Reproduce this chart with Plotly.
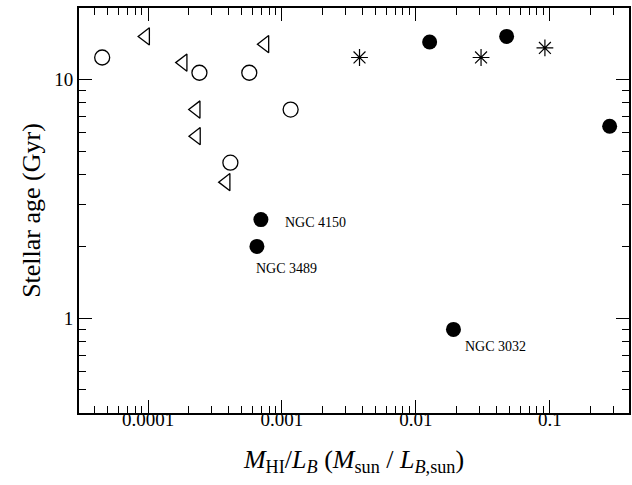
import numpy as np
import plotly.graph_objects as go

# open circles
oc_x = [4.55e-5, 2.42e-4, 5.7e-4, 1.16e-3, 4.12e-4]
oc_y = [12.4, 10.7, 10.7, 7.5, 4.49]
# open left triangles
tr_x = [9.6e-5, 1.83e-4, 2.29e-4, 2.3e-4, 3.83e-4, 7.46e-4]
tr_y = [15.2, 11.8, 7.5, 5.8, 3.72, 14.1]
# asterisks
as_x = [3.79e-3, 0.0306, 0.0917]
as_y = [12.4, 12.4, 13.6]
# filled circles
fc_x = [0.01265, 0.0475, 0.279, 6.96e-4, 6.5e-4, 0.01905]
fc_y = [14.4, 15.2, 6.38, 2.59, 2.0, 0.897]
fc_names = ["", "", "", "NGC 4150", "NGC 3489", "NGC 3032"]

x_tickvals = [1e-4, 1e-3, 1e-2, 1e-1]
x_ticktext = ["0.0001", "0.001", "0.01", "0.1"]
y_tickvals = [1, 10]
y_ticktext = ["1", "10"]

FONT = "Liberation Serif"

fig = go.Figure()
fig.add_trace(go.Scatter(x=oc_x, y=oc_y, mode="markers",
                         marker=dict(symbol="circle-open", size=15, color="black", line=dict(width=1.3))))
fig.add_trace(go.Scatter(x=tr_x, y=tr_y, mode="markers",
                         marker=dict(symbol="triangle-left-open", size=15, color="black", line=dict(width=1.3))))
fig.add_trace(go.Scatter(x=as_x, y=as_y, mode="markers",
                         marker=dict(symbol="asterisk-open", size=14, color="black", line=dict(width=1.2))))
fig.add_trace(go.Scatter(x=fc_x, y=fc_y, mode="markers",
                         marker=dict(symbol="circle", size=15, color="black", line=dict(width=0))))

offsets = {"NGC 4150": (22, -3), "NGC 3489": (-3, -22), "NGC 3032": (10, -17)}
for xv, yv, nm in zip(fc_x, fc_y, fc_names):
    if nm:
        dx, dy = offsets[nm]
        fig.add_annotation(x=np.log10(xv), y=np.log10(yv), text=nm, showarrow=False,
                           xanchor="left", yanchor="middle", xshift=dx, yshift=dy,
                           font=dict(family=FONT, size=14, color="black"))

def minors(lo, hi):
    vals = []
    for d in range(lo, hi):
        for m in range(2, 10):
            vals.append(m * 10.0 ** d)
    return vals

axis_common = dict(showline=True, linewidth=2, linecolor="black", mirror="ticks",
                   ticks="inside", ticklen=13, tickwidth=1.2, tickcolor="black",
                   showgrid=False, zeroline=False, tickfont=dict(family=FONT, size=19, color="black"))

fig.update_xaxes(type="log", range=[-4.515, -0.41], tickmode="array",
                 tickvals=x_tickvals, ticktext=x_ticktext, ticklabelstandoff=-12,
                 minor=dict(tickmode="array", tickvals=minors(-5, 0), ticks="inside",
                            ticklen=7, tickwidth=1.2, tickcolor="black", showgrid=False),
                 title=dict(text="<i>M</i><sub>HI</sub>/<i>L</i><sub><i>B</i></sub> (<i>M</i><sub>sun</sub> / <i>L</i><sub><i>B</i>,sun</sub>)",
                            font=dict(family=FONT, size=26, color="black"), standoff=21),
                 **axis_common)
fig.update_yaxes(type="log", range=[np.log10(0.4), np.log10(20)], tickmode="array",
                 tickvals=y_tickvals, ticktext=y_ticktext,
                 minor=dict(tickmode="array", tickvals=minors(-1, 2), ticks="inside",
                            ticklen=7, tickwidth=1.2, tickcolor="black", showgrid=False),
                 title=dict(text="Stellar age (Gyr)", font=dict(family=FONT, size=26, color="black"), standoff=6),
                 **axis_common)

fig.update_layout(width=632, height=485, margin=dict(l=79, r=1, t=8, b=72),
                  paper_bgcolor="white", plot_bgcolor="white", showlegend=False)

fig.write_html("out.html")
